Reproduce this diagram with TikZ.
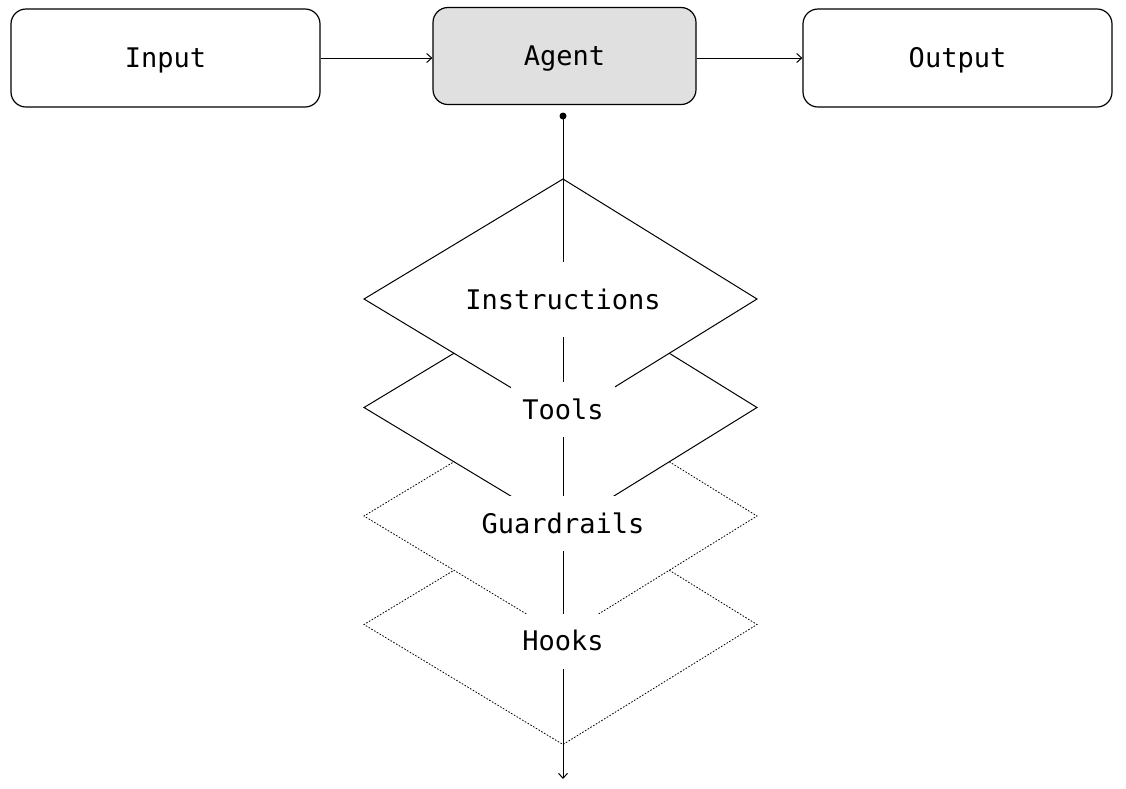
\documentclass[tikz,border=0pt]{standalone}
\usepackage{fontspec}
\setmonofont{DejaVu Sans Mono}
\usetikzlibrary{arrows.meta,calc}

\begin{document}
\begin{tikzpicture}[x=1pt,y=-1pt,
  mono/.style={font=\ttfamily\fontsize{27}{27}\selectfont, text height=19pt, text depth=0pt},
  box/.style={mono, draw, line width=1.2pt, rounded corners=15pt,
    minimum width=309pt, minimum height=98pt, inner sep=0pt},
  layer/.style={draw, fill=white, line width=1pt, line join=miter},
  soft/.style={layer, line width=0.8pt, dash pattern=on 1.6pt off 1.6pt},
  tag/.style={mono, fill=white, inner xsep=11pt, inner ysep=0pt, minimum height=55pt},
  flow/.style={-{Straight Barb[length=5pt,width=9pt]}, line width=1pt}
]
\useasboundingbox (0,0) rectangle (1126,788);

% top row: input -> agent -> output
\node[box] (input) at (165.5,58) {Input};
\node[box, fill=black!12, minimum width=263pt, minimum height=97pt] (agent) at (564.5,56) {Agent};
\node[box] (output) at (957.5,58) {Output};

\draw[flow] (input.east) -- (input.east -| agent.west);
\draw[flow] (agent.east |- output.west) -- (output.west);

% stacked layers, lowest first so upper layers overlap the lower ones
\foreach \c/\s in {624.5/soft, 516/soft, 407.5/layer, 299/layer}
  \draw[\s] (563,{\c-120}) -- (757,\c) -- (563,{\c+120}) -- (364,\c) -- cycle;

% spine through the layers
\node[circle, fill=black, inner sep=0pt, minimum size=7pt] (tap) at (563,116) {};
\coordinate (sink) at (563,779);
\draw[flow] (tap.center) -- (sink);

% layer labels
\node[tag, minimum height=75pt] (instructions) at (563,299.5) {Instructions};
\node[tag] (tools) at (563,409.5) {Tools};
\node[tag] (guardrails) at (563,523.5) {Guardrails};
\node[tag] (hooks) at (563,641) {Hooks};
\end{tikzpicture}
\end{document}
